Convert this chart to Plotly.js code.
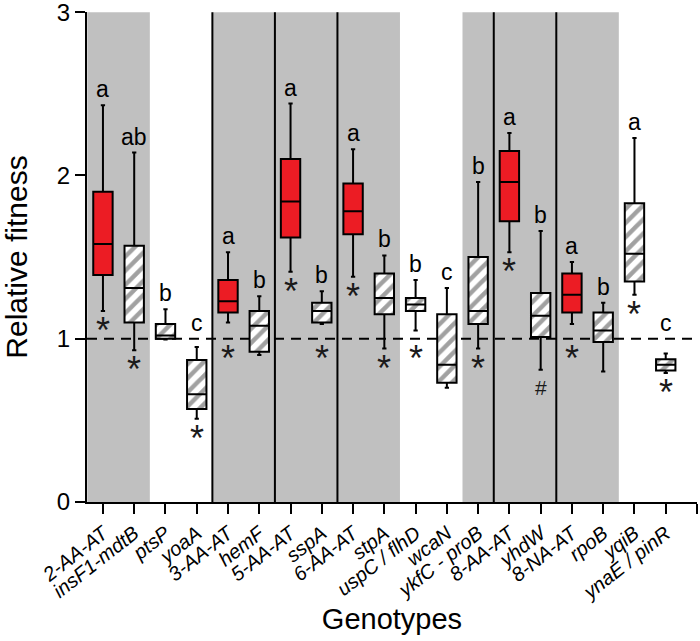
<!DOCTYPE html>
<html>
<head>
<meta charset="utf-8">
<script src="https://cdn.plot.ly/plotly-3.0.1.min.js"></script>
<style>html,body{margin:0;padding:0;background:#fff;}#chart{width:700px;height:641px;}</style>
</head>
<body>
<div id="chart"></div>
<script>
// Genotypes (x categories)
const categories = ['2-AA-AT','insF1-mdtB','ptsP','yoaA','3-AA-AT','hemF','5-AA-AT','sspA','6-AA-AT','stpA',
  'uspC / flhD','wcaN','ykfC - proB','8-AA-AT','yhdW','8-NA-AT','rpoB','yqiB','ynaE / pinR'];
// 1 = allelic-type (red filled) box, 0 = single mutant (hatched)
const isAT = [1,0,0,0,1,0,1,0,1,0,0,0,0,1,0,1,0,0,0];
// Box statistics (relative fitness)
const upperWhisker = [2.43,2.14,1.18,0.95,1.53,1.26,2.44,1.29,2.16,1.51,1.36,1.31,1.96,2.26,1.66,1.47,1.22,2.23,0.91];
const q3Values     = [1.90,1.57,1.09,0.87,1.36,1.17,2.10,1.22,1.95,1.40,1.25,1.15,1.50,2.15,1.28,1.40,1.16,1.83,0.875];
const medianValues = [1.58,1.31,1.02,0.66,1.23,1.08,1.84,1.17,1.78,1.25,1.21,0.84,1.17,1.96,1.14,1.27,1.05,1.52,0.84];
const q1Values     = [1.39,1.10,1.00,0.57,1.16,0.92,1.62,1.10,1.64,1.15,1.17,0.73,1.09,1.72,1.01,1.16,0.98,1.35,0.805];
const lowerWhisker = [1.17,0.93,0.995,0.51,1.10,0.90,1.41,1.09,1.38,0.94,1.05,0.70,0.94,1.53,0.81,1.09,0.80,1.27,0.79];
// Significance letters and markers
const letters = ['a','ab','b','c','a','b','a','b','a','b','b','c','b','a','b','a','b','a','c'];
const marks   = ['*','*','','*','*','','*','*','*','*','*','','*','*','#','*','','*','*'];
// Shaded groups (first & last category index) and separator lines (after category index)
const shadedGroups = [[0,1],[4,9],[12,16]];
const separatorsAfter = [3,5,7,12,14];
const referenceLevel = 1;

const RED = '#ec1c24';
const FONT = 'Liberation Sans, Arial, sans-serif';
const xs = categories.map((c,i)=>i);
const XRANGE = [-0.51, 19.0];

const barTrace = {
  type:'bar', x: xs, base: q1Values,
  y: q3Values.map((v,i)=>v-q1Values[i]),
  width: 0.62,
  marker:{
    color: isAT.map(a=> a ? RED : 'white'),
    line:{width:0},
    pattern:{shape: isAT.map(a=> a ? '' : '/'), fgcolor:'black', fillmode:'overlay', size:10, solidity:0.45}
  },
  hoverinfo:'skip'
};
const boxTrace = {
  type:'box', x: xs,
  q1: q1Values, median: medianValues, q3: q3Values,
  lowerfence: lowerWhisker, upperfence: upperWhisker,
  boxpoints:false, width:0.62, whiskerwidth:0.22,
  fillcolor:'rgba(0,0,0,0)', line:{color:'black', width:2},
  hoverinfo:'skip'
};

const shapes = [];
shadedGroups.forEach(g=>{
  shapes.push({type:'rect', xref:'x', yref:'y', x0:g[0]-0.5, x1:g[1]+0.5, y0:0, y1:3,
    fillcolor:'#c0c0c0', line:{width:0}, layer:'below'});
});
separatorsAfter.forEach(s=>{
  shapes.push({type:'line', xref:'x', yref:'y', x0:s+0.5, x1:s+0.5, y0:(s===7?-0.07:0), y1:3,
    line:{color:'black', width:2}, layer:'below'});
});
shapes.push({type:'line', xref:'x', yref:'y', x0:XRANGE[0], x1:XRANGE[1], y0:referenceLevel, y1:referenceLevel,
  line:{color:'black', width:2, dash:'10px,7px'}, layer:'below'});

const annotations = [];
letters.forEach((t,i)=>{
  const anchor = Math.max(upperWhisker[i], referenceLevel);
  annotations.push({x:i, y:anchor, xref:'x', yref:'y', text:t, showarrow:false,
    yanchor:'bottom', yshift:1, font:{family:FONT, size:23, color:'black'}});
});
marks.forEach((t,i)=>{
  if(!t) return;
  const lw = lowerWhisker[i];
  const anchor = (lw > referenceLevel && lw - referenceLevel < 0.15) ? referenceLevel : lw;
  annotations.push({x:i, y:anchor, xref:'x', yref:'y', text:t, showarrow:false,
    yanchor:'top', yshift:(t==='#'?-4:3), font:{family:FONT, size:(t==='#'?21:36), color:'#1a1a1a'}});
});

const tickvals = categories.map((c,i)=>i).concat([categories.length]);
const ticktext = categories.concat(['']);

const layout = {
  width:700, height:641,
  margin:{l:87, r:3, t:12, b:139},
  paper_bgcolor:'white', plot_bgcolor:'white',
  showlegend:false, barmode:'overlay',
  font:{family:FONT, color:'black'},
  xaxis:{
    range:XRANGE, tickmode:'array', tickvals:tickvals, ticktext:ticktext,
    tickangle:-38, tickfont:{family:FONT, size:20, style:'italic', color:'black'},
    ticks:'outside', ticklen:10, tickwidth:2, tickcolor:'black',
    showline:true, linewidth:2, linecolor:'black', showgrid:false, zeroline:false,
    title:{text:'Genotypes', font:{family:FONT, size:29, color:'black'}, standoff:6},
    automargin:false
  },
  yaxis:{
    range:[0,3.001], tickmode:'array', tickvals:[0,1,2,3], ticklabeloverflow:'allow',
    tickfont:{family:FONT, size:24, color:'black'},
    ticks:'outside', ticklen:10, tickwidth:2, tickcolor:'black',
    showline:true, linewidth:2, linecolor:'black', showgrid:false, zeroline:false,
    title:{text:'Relative fitness', font:{family:FONT, size:30, color:'black'}, standoff:26},
    automargin:false
  },
  shapes:shapes,
  annotations:annotations
};

Plotly.newPlot('chart', [barTrace, boxTrace], layout, {displayModeBar:false, staticPlot:true});
</script>
</body>
</html>
